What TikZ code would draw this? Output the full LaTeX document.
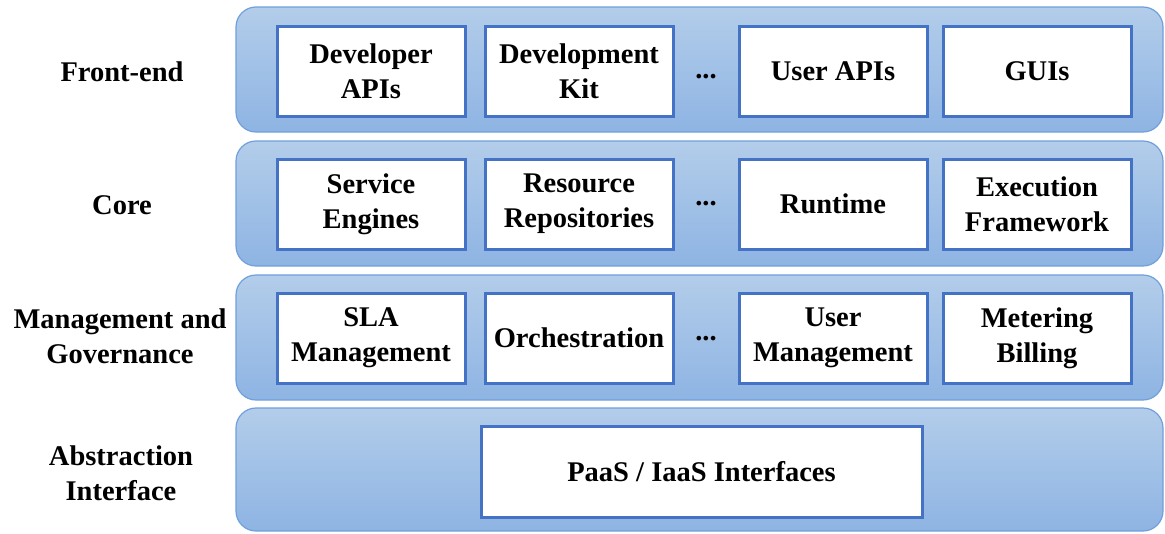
\documentclass[tikz,border=0pt]{standalone}
\usepackage{fontspec}
\setmainfont{Liberation Serif}
\definecolor{laytop}{HTML}{B3CDEA}
\definecolor{laybot}{HTML}{8EB4E3}
\definecolor{layedge}{HTML}{6FA0DC}
\definecolor{boxedge}{HTML}{4472C4}
\begin{document}
\begin{tikzpicture}[x=1pt,y=-1pt,
  layer/.style={draw=layedge, line width=1.2pt, rounded corners=20pt, top color=laytop, bottom color=laybot, minimum width=927pt, minimum height=125pt, inner sep=0pt},
  item/.style={draw=boxedge, line width=3pt, fill=white, minimum width=188pt, minimum height=90pt, inner sep=0pt, align=center, font=\fontsize{28.5}{35}\selectfont\bfseries},
  lab/.style={align=center, font=\fontsize{28.5}{35}\selectfont\bfseries},
  dots/.style={font=\fontsize{28.5}{35}\selectfont\bfseries}]
\useasboundingbox (0,0) rectangle (1165,533);
\node[layer] (L1) at (699.5,69.5) {};
\node[layer] (L2) at (699.5,203.5) {};
\node[layer] (L3) at (699.5,337.5) {};
\node[layer, minimum height=123pt] (L4) at (699.5,469.5) {};

\node[lab] (t1) at (122,72) {Front-end};
\node[lab] (t2) at (122,205) {Core};
\node[lab] (t3) at (120,336) {Management and\\Governance};
\node[lab] (t4) at (121,473) {Abstraction\\Interface};

\node[item] (a1) at (371,71) {Developer\\APIs};
\node[item] (a2) at (579,71) {Development\\Kit};
\node[dots] (a3) at (706,77) {...};
\node[item] (a4) at (833,71) {User APIs};
\node[item] (a5) at (1037,71) {GUIs};

\node[item] (b1) at (371,204) {Service\\Engines};
\node[item] (b2) at (579,204) {Resource\\Repositories};
\node[dots] (b3) at (706,204) {...};
\node[item] (b4) at (833,204) {Runtime};
\node[item] (b5) at (1037,204) {Execution\\Framework};

\node[item] (c1) at (371,338) {SLA\\Management};
\node[item] (c2) at (579,338) {Orchestration};
\node[dots] (c3) at (706,339) {...};
\node[item] (c4) at (833,338) {User\\Management};
\node[item] (c5) at (1037,338) {Metering\\Billing};

\node[item, minimum width=441pt, minimum height=91pt] (d1) at (701.5,471.5) {PaaS / IaaS Interfaces};
\end{tikzpicture}
\end{document}
